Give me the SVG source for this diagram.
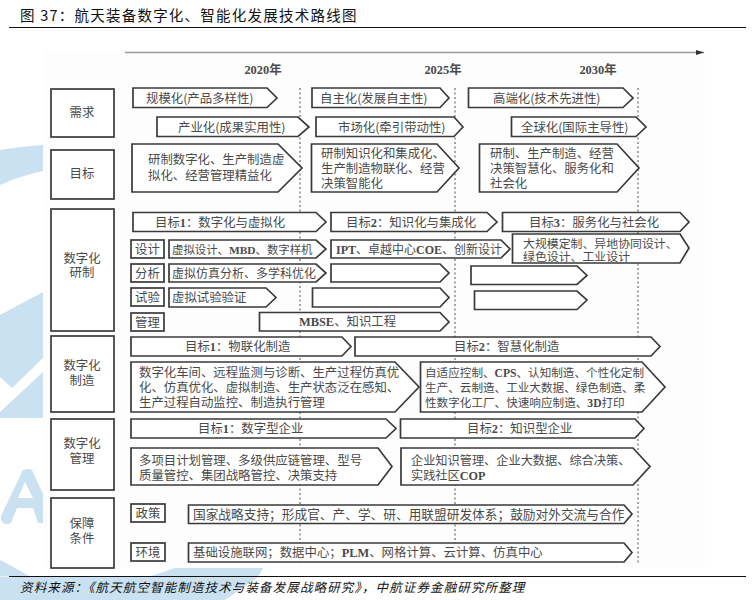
<svg xmlns="http://www.w3.org/2000/svg" width="754" height="600" viewBox="0 0 754 600">
<style>
text{font-family:"Noto Sans CJK SC","Noto Sans",sans-serif;fill:#4a4a4a;font-size:12.4px}
.s{font-family:"Liberation Serif","Noto Sans CJK SC",serif;font-weight:bold}
.b{fill:#fff;stroke:#3a3a3a;stroke-width:1.7}
.d{stroke:#777;stroke-width:1.3;stroke-dasharray:2 2.5;fill:none}
.c{text-anchor:middle}
.wm{fill:#c9e1f1}
.r{stroke:#111;stroke-width:1;fill:none}
</style>
<defs><marker id="a" markerUnits="userSpaceOnUse" markerWidth="8" markerHeight="5" refX="8" refY="2.500" orient="auto"><path d="M0 0L8 2.500L0 5z" fill="#333"/></marker></defs>
<rect width="754" height="600" fill="#fff"/>
<g id="watermark">
<path class="wm" d="M0 150Q22 146 43 145V171Q20 176 0 185z"/>
<path class="wm" d="M0 315L43 292V358L12 388L0 377z"/>
<path class="wm" d="M0 412L43 372V418H0z"/>
<path class="wm" fill-rule="evenodd" d="M23 470Q28 468 32 470L43 494V523H38L33 508H17L11 523Q4 526 1 520L1 516zM25 482L18 498H33z"/>
<path class="wm" d="M0 560Q14 567 30 576.500H0z"/>
<path class="wm" d="M150 576.500L175 568H263L258 577L225 600H0V577z"/>
<rect x="43" y="50" width="662" height="518" fill="#fdfdfd"/>
</g>
<g id="title"><text x="20" y="21" style="font-size:14.500px;fill:#111;letter-spacing:1.230px">图 37：航天装备数字化、智能化发展技术路线图</text>
<path class="r" d="M9 27.500H746"/>
<path class="r" d="M9 576.500H746"/></g>
<g id="connectors">
<path d="M125 52.500H704" stroke="#999" stroke-width="1.500" marker-end="url(#a)"/>
<path class="d" d="M300 88V565"/><path class="d" d="M455 88V565"/><path class="d" d="M638 88V565"/>
</g>
<g id="years"><text x="263" y="74" class="s c">2020年</text><text x="443" y="74" class="s c">2025年</text><text x="598" y="74" class="s c">2030年</text></g>
<g id="need"><rect class="b" x="51" y="89" width="63" height="48"/><text x="82" y="117" class="c">需求</text></g>
<g id="goal"><rect class="b" x="51" y="150" width="63" height="49"/><text x="82" y="178" class="c">目标</text></g>
<g id="rd"><rect class="b" x="51" y="209" width="63" height="122"/><text x="82" y="263" class="c">数字化</text><text x="82" y="277" class="c">研制</text></g>
<g id="mfg"><rect class="b" x="51" y="336" width="63" height="76"/><text x="82" y="370" class="c">数字化</text><text x="82" y="385" class="c">制造</text></g>
<g id="mgmt"><rect class="b" x="51" y="419" width="63" height="71"/><text x="82" y="448" class="c">数字化</text><text x="82" y="463" class="c">管理</text></g>
<g id="support"><rect class="b" x="51" y="498" width="63" height="70"/><text x="82" y="528" class="c">保障</text><text x="82" y="543" class="c">条件</text></g>
<g id="n1"><path class="b" d="M133 88H267L277 98L267 107.500H133z"/><text x="146" y="103">规模化(产品多样性)</text></g>
<g id="n2"><path class="b" d="M312 88H440L449 98L440 107.500H312z"/><text x="320" y="103">自主化(发展自主性)</text></g>
<g id="n3"><path class="b" d="M468.500 88H623L633 98L623 107.500H468.500z"/><text x="493" y="103">高端化(技术先进性)</text></g>
<g id="n4"><path class="b" d="M157 117H298L309 127L298 136.500H157z"/><text x="178" y="132">产业化(成果实用性)</text></g>
<g id="n5"><path class="b" d="M316 117H454L463 127L454 136.500H316z"/><text x="338" y="132">市场化(牵引带动性)</text></g>
<g id="n6"><path class="b" d="M511.500 117H636L646 127L636 136.500H511.500z"/><text x="521" y="132">全球化(国际主导性)</text></g>
<g id="n7"><path class="b" d="M132 144H278L302 168L278 192H132z"/><text x="148" y="164">研制数字化、生产制造虚</text><text x="148" y="180">拟化、经营管理精益化</text></g>
<g id="n8"><path class="b" d="M311.500 144H437L459 168L437 192H311.500z"/><text x="321" y="158">研制知识化和集成化、</text><text x="321" y="173">生产制造物联化、经营</text><text x="321" y="188">决策智能化</text></g>
<g id="n9"><path class="b" d="M479.500 144H617L639 168L617 192H479.500z"/><text x="490" y="158">研制、生产制造、经营</text><text x="490" y="173">决策智慧化、服务化和</text><text x="490" y="188">社会化</text></g>
<g id="n10"><path class="b" d="M133 212.500H316L326 222L316 231.500H133z"/><text x="155" y="226.500">目标<tspan class="s">1</tspan>：数字化与虚拟化</text></g>
<g id="n11"><path class="b" d="M331 212.500H487L497 222L487 231.500H331z"/><text x="346" y="226.500">目标<tspan class="s">2</tspan>：知识化与集成化</text></g>
<g id="n12"><path class="b" d="M502.500 212.500H680L689 222L680 231.500H502.500z"/><text x="529" y="226.500">目标<tspan class="s">3</tspan>：服务化与社会化</text></g>
<g id="n13"><rect class="b" x="131" y="240" width="33" height="18"/><text x="147.500" y="254" class="c">设计</text></g>
<g id="n14"><path class="b" d="M169 240H316L326 249L316 258H169z"/><text x="172" y="254" style="font-size:11.400px">虚拟设计、<tspan class="s">MBD</tspan>、数字样机</text></g>
<g id="n15"><path class="b" d="M331 240H501L510 249L501 258H331z"/><text x="336" y="254" style="font-size:12px"><tspan class="s">IPT</tspan>、卓越中心<tspan class="s">COE</tspan>、创新设计</text></g>
<g id="n16"><path class="b" d="M512.500 234H680L689 248L680 263H512.500z"/><text x="523" y="248" style="font-size:11.900px">大规模定制、异地协同设计、</text><text x="523" y="261" style="font-size:11.900px">绿色设计、工业设计</text></g>
<g id="n17"><rect class="b" x="131" y="264" width="33" height="18"/><text x="147.500" y="278" class="c">分析</text></g>
<g id="n18"><path class="b" d="M169 264H316L326 273L316 282H169z"/><text x="172" y="278" style="font-size:12px">虚拟仿真分析、多学科优化</text></g>
<g id="n19"><path class="b" d="M331 264H440L449 273L440 282H331z"/></g>
<g id="n20"><path class="b" d="M471 266H577L587 275.500L577 284.500H471z"/></g>
<g id="n21"><rect class="b" x="131" y="288" width="33" height="18"/><text x="147.500" y="302" class="c">试验</text></g>
<g id="n22"><path class="b" d="M169 288H266L276 297.500L266 307H169z"/><text x="172" y="302">虚拟试验验证</text></g>
<g id="n23"><path class="b" d="M312.500 288H440L449 297.500L440 307H312.500z"/></g>
<g id="n24"><path class="b" d="M474.500 291H577L587 300L577 309.500H474.500z"/></g>
<g id="n25"><rect class="b" x="131" y="313" width="33" height="18"/><text x="147.500" y="327" class="c">管理</text></g>
<g id="n26"><path class="b" d="M259.500 312.500H440L449 322L440 331H259.500z"/><text x="299" y="326"><tspan class="s">MBSE</tspan>、知识工程</text></g>
<g id="n27"><path class="b" d="M131 337H342L351 346.500L342 356H131z"/><text x="185" y="351">目标<tspan class="s">1</tspan>：物联化制造</text></g>
<g id="n28"><path class="b" d="M355 337H651L660 346.500L651 356H355z"/><text x="454" y="351">目标<tspan class="s">2</tspan>：智慧化制造</text></g>
<g id="n29"><path class="b" d="M131 362H395L419 387L395 412H131z"/><text x="139" y="377">数字化车间、远程监测与诊断、生产过程仿真优</text><text x="139" y="392">化、仿真优化、虚拟制造、生产状态泛在感知、</text><text x="139" y="407">生产过程自动监控、制造执行管理</text></g>
<g id="n30"><path class="b" d="M420.500 362H642L665 387L642 412H420.500z"/><text x="425" y="377" style="font-size:11.600px">自适应控制、<tspan class="s">CPS</tspan>、认知制造、个性化定制</text><text x="425" y="392" style="font-size:11.600px">生产、云制造、工业大数据、绿色制造、柔</text><text x="425" y="407" style="font-size:11.600px">性数字化工厂、快速响应制造、<tspan class="s">3D</tspan>打印</text></g>
<g id="n31"><path class="b" d="M131 419H386L396 428.500L386 438H131z"/><text x="198" y="433">目标<tspan class="s">1</tspan>：数字型企业</text></g>
<g id="n32"><path class="b" d="M400.500 419H635L644 428.500L635 438H400.500z"/><text x="467" y="433">目标<tspan class="s">2</tspan>：知识型企业</text></g>
<g id="n33"><path class="b" d="M131 448H378L392 466.500L378 485H131z"/><text x="139" y="465">多项目计划管理、多级供应链管理、型号</text><text x="139" y="480">质量管控、集团战略管控、决策支持</text></g>
<g id="n34"><path class="b" d="M401 448H633L650 466.500L633 485H401z"/><text x="411" y="465" style="font-size:12.200px">企业知识管理、企业大数据、综合决策、</text><text x="411" y="480" style="font-size:12.200px">实践社区<tspan class="s">COP</tspan></text></g>
<g id="n35"><rect class="b" x="131" y="504" width="34" height="18"/><text x="148" y="518" class="c">政策</text></g>
<g id="n36"><path class="b" d="M188.500 505H624L632 514L624 523.500H188.500z"/><text x="193" y="519" style="font-size:12.700px">国家战略支持；形成官、产、学、研、用联盟研发体系；鼓励对外交流与合作</text></g>
<g id="n37"><rect class="b" x="131" y="543" width="34" height="18"/><text x="148" y="557" class="c">环境</text></g>
<g id="n38"><path class="b" d="M188.500 543H624L632 552.500L624 562H188.500z"/><text x="193" y="557">基础设施联网；数据中心；<tspan class="s">PLM</tspan>、网格计算、云计算、仿真中心</text></g>
<g id="source"><text x="20" y="592" style="font-style:italic;fill:#111;font-size:12.500px;letter-spacing:1.130px">资料来源：《航天航空智能制造技术与装备发展战略研究》，中航证券金融研究所整理</text></g>
</svg>
